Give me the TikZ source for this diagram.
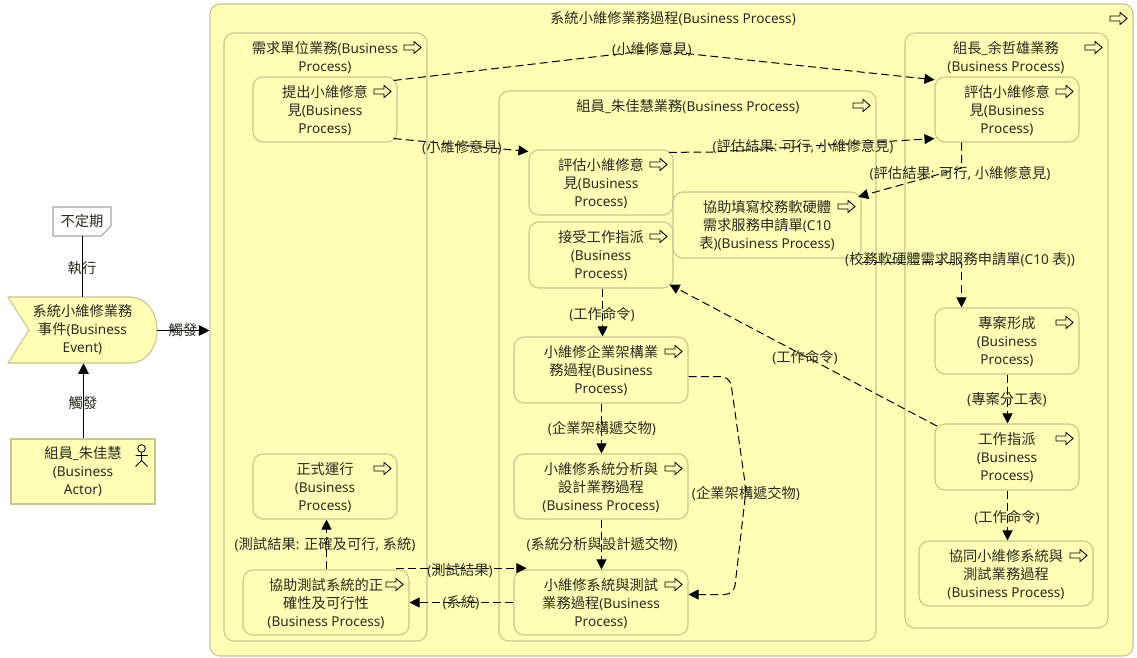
\documentclass[tikz,border=0pt]{standalone}
\usepackage{fontspec}
\setmainfont{Noto Sans}
\newfontfamily\cjkfont{Noto Sans CJK TC}[Scale=1.05]
\XeTeXinterchartokenstate=1
\newXeTeXintercharclass\cjkclass
\newcount\cjkcnt
\cjkcnt="4E00
\loop\ifnum\cjkcnt<"A000
 \XeTeXcharclass\cjkcnt=\cjkclass
 \advance\cjkcnt by 1
\repeat
\XeTeXinterchartoks 0 \cjkclass={\begingroup\cjkfont}
\XeTeXinterchartoks 4095 \cjkclass={\begingroup\cjkfont}
\XeTeXinterchartoks \cjkclass 0={\endgroup}
\XeTeXinterchartoks \cjkclass 4095={\endgroup}
\usetikzlibrary{arrows.meta,calc}
\definecolor{by}{HTML}{FFFFB5}
\definecolor{bb}{HTML}{C6C68E}
\definecolor{tx}{HTML}{2A2A20}
\tikzset{
  txt/.style={font=\fontsize{10.2}{13.5}\selectfont,text=tx,align=center,inner sep=0pt},
  procbox/.style={draw=bb,fill=by,rounded corners=7.5pt,line width=.8pt,inner sep=0pt},
  lbl/.style={txt},
  flow/.style={draw=black,line width=.75pt,dash pattern=on 6pt off 3.2pt,-{Triangle[length=7.5pt,width=7.5pt]}},
  solidarrow/.style={draw=black,line width=.75pt,-{Triangle[length=8pt,width=8pt]}},
  plain/.style={draw=black,line width=.75pt},
}
\newcommand\pnode[6]{\node[procbox,minimum width={(#4-#2)*0.75pt},minimum height={(#5-#3)*0.75pt}] (#1) at ({(#2+#4)/2},{(#3+#5)/2}) {};
 \node[txt] (#1text) at ({(#2+#4)/2},{(#3+#5)/2+0.8}) {#6};
 \picon{#1.north east}}
\newcommand\picon[1]{\begin{scope}[shift={(#1)},shift={(-15,15)}]
 \draw[black,line width=.65pt,fill=by,line join=miter] (-8.5,-2.5)--(1.5,-2.5)--(1.5,-6)--(8.5,0)--(1.5,6)--(1.5,2.5)--(-8.5,2.5)--cycle;
 \end{scope}}
\begin{document}
\begin{tikzpicture}[x=0.75pt,y=-0.75pt]
\useasboundingbox (0,0) rectangle (1137,657);
\fill[white] (0,0) rectangle (1137,657);
% containers
\pnode{outer}{210}{4}{1133}{656}{}
\pnode{req}{224}{33}{427}{641}{}
\pnode{mem}{499}{91}{876}{641}{}
\pnode{lead}{905}{33}{1108}{628}{}
\node[txt] (outerT) at (673,19) {系統小維修業務過程(Business Process)};
\node[txt] (reqT) at (325,58) {需求單位業務(Business\\Process)};
\node[txt] (memT) at (688,107) {組員\_朱佳慧業務(Business Process)};
\node[txt] (leadT) at (1006,58) {組長\_余哲雄業務\\(Business Process)};
% processes
\pnode{propose}{253}{77}{397}{142}{提出小維修意\\見(Business\\Process)}
\pnode{run}{253}{454}{397}{519}{正式運行\\(Business\\Process)}
\pnode{assist}{243}{570}{409}{635}{協助測試系統的正\\確性及可行性\\(Business Process)}
\pnode{evalA}{529}{150}{673}{215}{評估小維修意\\見(Business\\Process)}
\pnode{accept}{529}{222}{673}{288}{接受工作指派\\(Business\\Process)}
\pnode{fill}{673}{192}{861}{258}{協助填寫校務軟硬體\\需求服務申請單(C10\\表)(Business Process)}
\pnode{ea}{514}{337}{688}{403}{小維修企業架構業\\務過程(Business\\Process)}
\pnode{sa}{514}{454}{688}{519}{小維修系統分析與\\設計業務過程\\(Business Process)}
\pnode{test}{514}{570}{688}{635}{小維修系統與測試\\業務過程(Business\\Process)}
\pnode{evalB}{935}{77}{1079}{142}{評估小維修意\\見(Business\\Process)}
\pnode{proj}{935}{308}{1079}{374}{專案形成\\(Business\\Process)}
\pnode{assign}{935}{424}{1079}{490}{工作指派\\(Business\\Process)}
\pnode{coop}{919}{541}{1093}{606}{協同小維修系統與\\測試業務過程\\(Business Process)}
% left elements
\draw[draw=bb,fill=by,line width=.8pt] (8,297)--(130,297) .. controls (146,297) and (157,312) .. (157,330) .. controls (157,348) and (146,363) .. (130,363)--(8,363)--(29,330)--cycle;
\node[txt,minimum width={149*0.75pt},minimum height={66*0.75pt}] (event) at (82.5,330) {系統小維修業務\\事件(Business\\Event)};
\node[draw=bb,fill=by,line width=.8pt,txt,minimum width={144*0.75pt},minimum height={65*0.75pt}] (actor) at (83,471.5) {組員\_朱佳慧\\(Business\\Actor)};
\begin{scope}[shift={(actor.north east)},shift={(-14,10)},black,line width=.65pt]
 \draw (0,0) circle (3.8);
 \draw (0,3.8)--(0,12) (-6,7)--(6,7) (-6,18)--(0,12)--(6,18);
\end{scope}
\draw[draw=gray!70,fill=white,line width=.8pt] (53,207)--(111,207)--(111,226)--(101,236)--(53,236)--cycle;
\node[txt,minimum width={58*0.75pt},minimum height={29*0.75pt}] (freq) at (82,221.5) {不定期};
% connectors
\draw[plain] ([xshift=.375pt]freq.south) -- ([xshift=.375pt]freq.south |- event.north);
\draw[solidarrow] ([xshift=.375pt]actor.north) -- ([xshift=.375pt]actor.north |- event.south);
\draw[solidarrow] ([yshift=-.375pt]event.east) -- ([yshift=-.375pt]outer.west |- event.east);
\coordinate (b1) at (653,50);
\draw[flow] ([xshift=-3pt,yshift=-3pt]propose.north east) -- (b1) -- ([yshift=-2.5pt]evalB.north west);
\draw[flow] ([xshift=-3pt,yshift=3pt]propose.south east) -- ([yshift=-1.5pt]evalA.north west);
\coordinate (b2) at (713,152);
\draw[flow] ([xshift=-3.5pt,yshift=-2.2pt]evalA.north east) -- (b2) -- ([yshift=3pt]evalB.south west);
\coordinate (b3) at (961.5,168);
\draw[flow] (evalB.south west -| b3) -- (b3) -- ([xshift=-2.5pt,yshift=-4pt]fill.north east);
\coordinate (b4) at (961.5,262);
\draw[flow] (fill.east |- b4) -- (b4) -- (proj.north -| b4);
\draw[flow] ([xshift=.375pt]proj.south) -- ([xshift=.375pt]assign.north);
\draw[flow] ([xshift=.375pt]assign.south) -- ([xshift=.375pt]assign.south |- coop.north);
\draw[flow] ([xshift=2pt,yshift=-2pt]assign.north west) -- ([xshift=-3pt,yshift=3pt]accept.south east);
\draw[flow] ([xshift=1.125pt]accept.south) -- ([xshift=1.125pt]accept.south |- ea.north);
\draw[flow] ([xshift=.375pt]ea.south) -- ([xshift=.375pt]ea.south |- sa.north);
\draw[flow] ([xshift=.375pt]sa.south) -- ([xshift=.375pt]sa.south |- test.north);
\coordinate (b5) at (730,376.5);
\coordinate (b6) at (734,594.5);
\coordinate (b7) at (746,490);
\draw[flow,rounded corners=7pt] (ea.east |- b5) -- (b5) -- (b7) -- (b6) -- (test.east |- b6);
\draw[flow] ([xshift=-10.5pt,yshift=1pt]assist.north east) -- ([xshift=9.75pt,yshift=1pt]test.north west);
\draw[flow] (test.west |- 0,602.5) -- (assist.east |- 0,602.5);
\draw[flow] ([xshift=.375pt]assist.north) -- ([xshift=.375pt]assist.north |- run.south);
% labels
\node[lbl] (l1) at (82,268) {執行};
\node[lbl] (l2) at (83,403) {觸發};
\node[lbl] (l3) at (183,330) {觸發};
\node[lbl] (l4) at (652,50) {(小維修意見)};
\node[lbl] (l5) at (462,148) {(小維修意見)};
\node[lbl] (l6) at (803,147) {(評估結果: 可行, 小維修意見)};
\node[lbl] (l7) at (960,174) {(評估結果: 可行, 小維修意見)};
\node[lbl] (l8) at (960,260) {(校務軟硬體需求服務申請單(C10 表))};
\node[lbl] (l9) at (1007,400) {(專案分工表)};
\node[lbl] (l10) at (1007,517) {(工作命令)};
\node[lbl] (l11) at (805,357) {(工作命令)};
\node[lbl] (l12) at (602,314) {(工作命令)};
\node[lbl] (l13) at (602,429) {(企業架構遞交物)};
\node[lbl] (l14) at (746,494) {(企業架構遞交物)};
\node[lbl] (l15) at (602,545) {(系統分析與設計遞交物)};
\node[lbl] (l16) at (325,545) {(測試結果: 正確及可行, 系統)};
\node[lbl] (l17) at (460,571) {(測試結果)};
\node[lbl] (l18) at (461,603) {(系統)};
\end{tikzpicture}
\end{document}
